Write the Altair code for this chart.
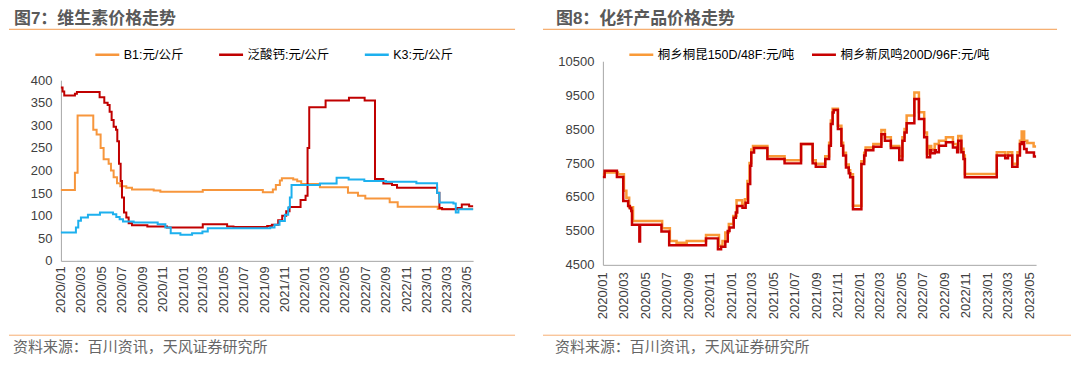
import altair as alt
import pandas as pd

FONT = "Liberation Sans, Noto Sans CJK SC, sans-serif"
CJK = "Noto Sans CJK SC, sans-serif"

# ---------------- 图7 data (元/公斤) ----------------
b1_dates = ["2020-01-01", "2020-02-12", "2020-02-20", "2020-04-07", "2020-04-17", "2020-04-29",
            "2020-05-08", "2020-05-23", "2020-05-30", "2020-06-07", "2020-06-17", "2020-06-27",
            "2020-07-15", "2020-08-01", "2020-10-05", "2020-10-25", "2021-03-01", "2021-08-28",
            "2021-09-27", "2021-10-06", "2021-10-18", "2021-10-24", "2021-11-27", "2021-12-09",
            "2021-12-21", "2022-02-15", "2022-05-10", "2022-06-09", "2022-07-01", "2022-09-12",
            "2022-10-06", "2023-02-03", "2023-05-20"]
b1_vals = [157, 195, 322, 290, 280, 250,
           225, 215, 200, 185, 172, 165,
           162, 158, 156, 153, 157, 152,
           158, 168, 178, 183, 180, 176,
           170, 163, 151, 144, 138, 130,
           120, 115, 115]

pan_dates = ["2020-01-01", "2020-01-06", "2020-01-11", "2020-02-12", "2020-02-18", "2020-04-26",
             "2020-05-10", "2020-05-20", "2020-05-26", "2020-06-01", "2020-06-07", "2020-06-14",
             "2020-06-18", "2020-06-23", "2020-06-28", "2020-07-02", "2020-07-08", "2020-07-15",
             "2020-07-22", "2020-08-01", "2020-09-16", "2020-11-14", "2021-03-01", "2021-05-13",
             "2021-06-01", "2021-09-10", "2021-09-24", "2021-10-13", "2021-10-25", "2021-11-06",
             "2021-11-16", "2021-12-19", "2022-01-03", "2022-01-09", "2022-01-14", "2022-03-04",
             "2022-05-13", "2022-06-29", "2022-07-30", "2022-08-24", "2022-09-19", "2022-10-04",
             "2023-02-01", "2023-02-08", "2023-02-16", "2023-04-02", "2023-04-16", "2023-05-08",
             "2023-05-20"]
pan_vals = [384, 375, 366, 370, 374, 362,
            350, 345, 330, 312, 297, 290,
            265, 215, 177, 140, 107, 96,
            83, 79, 76, 74, 81, 76,
            75, 77, 80, 90, 100, 110,
            119, 135, 144, 250, 340, 355,
            361, 355, 181, 171, 168, 162,
            151, 117, 114, 117, 125, 121,
            121]

k3_dates = ["2020-01-01", "2020-02-15", "2020-02-22", "2020-03-01", "2020-03-22", "2020-04-27",
            "2020-06-05", "2020-06-15", "2020-06-25", "2020-07-05", "2020-08-06", "2020-10-17",
            "2020-11-09", "2020-11-25", "2020-12-24", "2021-01-28", "2021-02-28", "2021-03-16",
            "2021-09-19", "2021-10-02", "2021-10-17", "2021-11-02", "2021-11-12", "2021-11-17",
            "2021-11-22", "2022-02-15", "2022-04-06", "2022-05-12", "2022-06-28", "2022-09-01",
            "2022-12-01", "2023-02-01", "2023-02-08", "2023-03-22", "2023-03-29", "2023-04-06",
            "2023-05-20"]
k3_vals = [63, 74, 89, 96, 102, 107,
           103, 97, 92, 87, 85, 81,
           74, 61, 58, 61, 65, 72,
           74, 80, 88, 102, 118, 140,
           168, 171, 184, 180, 177, 175,
           172, 150, 129, 127, 107, 114,
           114]

# ---------------- 图8 data (元/吨) ----------------
tk_dates = ["2020-01-01", "2020-01-06", "2020-02-13", "2020-03-01", "2020-03-08", "2020-03-16",
            "2020-03-27", "2020-06-18", "2020-07-10", "2020-07-29", "2020-08-27", "2020-10-21",
            "2020-11-27", "2020-12-07", "2020-12-15", "2020-12-25", "2021-01-07", "2021-01-16",
            "2021-02-01", "2021-02-09", "2021-02-16", "2021-02-22", "2021-02-27", "2021-03-04",
            "2021-04-14", "2021-06-02", "2021-07-19", "2021-08-21", "2021-08-30", "2021-09-26",
            "2021-10-07", "2021-10-12", "2021-10-17", "2021-11-01", "2021-11-11", "2021-11-16",
            "2021-11-24", "2021-12-02", "2021-12-06", "2021-12-14", "2022-01-07", "2022-01-15",
            "2022-01-19", "2022-02-10", "2022-03-05", "2022-03-15", "2022-04-01", "2022-04-25",
            "2022-05-04", "2022-05-10", "2022-05-16", "2022-06-07", "2022-06-20", "2022-07-05",
            "2022-07-13", "2022-07-19", "2022-07-25", "2022-08-04", "2022-08-16", "2022-09-05",
            "2022-09-25", "2022-10-07", "2022-10-10", "2022-10-19", "2022-10-25", "2022-10-29",
            "2023-01-28", "2023-02-21", "2023-03-01", "2023-03-13", "2023-03-28", "2023-04-04",
            "2023-04-09", "2023-04-16", "2023-04-25", "2023-05-13", "2023-05-20"]
tk_vals = [7160, 7220, 7170, 6680, 6480, 6200,
           5790, 5580, 5200, 5150, 5200, 5380,
           5060, 5200, 5450, 5700, 5940, 6400,
           6280, 6430, 6970, 7500, 7900, 8000,
           7700, 7580, 8060, 7580, 7480, 7700,
           8100, 8750, 9100, 8600, 8100, 7800,
           7460, 7290, 7170, 6240, 7550, 7800,
           7960, 8060, 8470, 8260, 8000, 7700,
           8260, 8500, 8900, 9580, 9000, 8400,
           7780, 8000, 7900, 8060, 8160, 8260,
           8060, 7920, 8300, 7920, 7720, 7180,
           7820, 7740, 7820, 7480, 7820, 8160,
           8430, 8160, 8090, 7990, 7990]

xf_dates = ["2020-01-01", "2020-01-06", "2020-02-10", "2020-02-28", "2020-03-13", "2020-03-18",
            "2020-03-22", "2020-03-24", "2020-04-14", "2020-04-16", "2020-06-16", "2020-07-08",
            "2020-10-21", "2020-11-24", "2020-12-03", "2020-12-15", "2020-12-22", "2020-12-27",
            "2021-01-08", "2021-01-14", "2021-01-18", "2021-02-02", "2021-02-11", "2021-02-18",
            "2021-02-24", "2021-02-27", "2021-03-07", "2021-04-14", "2021-06-02", "2021-07-19",
            "2021-08-21", "2021-08-30", "2021-09-26", "2021-10-07", "2021-10-12", "2021-10-17",
            "2021-10-20", "2021-11-01", "2021-11-11", "2021-11-16", "2021-11-24", "2021-12-02",
            "2021-12-06", "2021-12-14", "2022-01-07", "2022-01-15", "2022-01-19", "2022-02-10",
            "2022-03-05", "2022-03-15", "2022-04-01", "2022-04-25", "2022-05-04", "2022-05-10",
            "2022-05-16", "2022-06-07", "2022-06-20", "2022-07-05", "2022-07-13", "2022-07-22",
            "2022-07-25", "2022-08-04", "2022-08-07", "2022-08-16", "2022-09-05", "2022-09-25",
            "2022-10-07", "2022-10-10", "2022-10-19", "2022-10-25", "2022-10-29", "2023-01-28",
            "2023-02-21", "2023-03-01", "2023-03-13", "2023-03-28", "2023-04-04", "2023-04-09",
            "2023-04-16", "2023-04-23", "2023-05-14", "2023-05-20"]
xf_vals = [7090, 7270, 7090, 6380, 6235, 6165,
           6090, 5680, 5190, 5680, 5480, 5080,
           5280, 4960, 5030, 5190, 5500, 5600,
           5890, 6040, 6235, 6185, 6330, 6880,
           7420, 7810, 7940, 7620, 7490, 8060,
           7490, 7390, 7620, 8010, 8650, 8990,
           9060, 8500, 8010, 7720, 7370, 7200,
           7080, 6140, 7470, 7720, 7880, 7980,
           8350, 8160, 7940, 7590, 8160, 8400,
           8670, 9390, 8800, 8260, 7670, 7880,
           7790, 7880, 7820, 8010, 8110, 7960,
           7820, 8160, 7820, 7620, 7080, 7720,
           7640, 7720, 7390, 7720, 8060, 8110,
           7910, 7810, 7690, 7690]

left_names = ["B1:元/公斤", "泛酸钙:元/公斤", "K3:元/公斤"]
left_colors = ["#F7963C", "#C00000", "#1DB0EE"]
right_names = ["桐乡桐昆150D/48F:元/吨", "桐乡新凤鸣200D/96F:元/吨"]
right_colors = ["#F99A38", "#C80000"]

x_ticks = ["2020-01", "2020-03", "2020-05", "2020-07", "2020-09", "2020-11",
           "2021-01", "2021-03", "2021-05", "2021-07", "2021-09", "2021-11",
           "2022-01", "2022-03", "2022-05", "2022-07", "2022-09", "2022-11",
           "2023-01", "2023-03", "2023-05"]
left_yticks = [0, 50, 100, 150, 200, 250, 300, 350, 400]
right_yticks = [4500, 5500, 6500, 7500, 8500, 9500, 10500]

titles = ["图7：维生素价格走势", "图8：化纤产品价格走势"]
source = "资料来源：百川资讯，天风证券研究所"


def series(name, dates, vals):
    return pd.DataFrame({"series": name,
                         "date": [d + "T00:00:00" for d in dates],
                         "value": vals})


left_df = pd.concat([series(left_names[0], b1_dates, b1_vals),
                     series(left_names[1], pan_dates, pan_vals),
                     series(left_names[2], k3_dates, k3_vals)], ignore_index=True)
right_df = pd.concat([series(right_names[0], tk_dates, tk_vals),
                      series(right_names[1], xf_dates, xf_vals)], ignore_index=True)

tick_dt = [alt.DateTime(year=int(s[:4]), month=int(s[5:]), date=1) for s in x_ticks]
x_dom = [alt.DateTime(year=2020, month=1, date=1), alt.DateTime(year=2023, month=5, date=20)]

AX = dict(ticks=False, grid=False, domainColor="#A6A6A6", domainWidth=1,
          labelFontSize=13, labelColor="#404040", labelFont=FONT, title=None)


def panel(df, names, colors, ydom, yrange, yticks, width, height, xoff, xpad,
          legx, colpad, legfs, title, rule_x1, top_x2, bot_x2, sw):
    xenc = alt.X("date:T", scale=alt.Scale(domain=x_dom),
                 axis=alt.Axis(values=tick_dt, format="%Y/%m", labelAngle=-90,
                               labelOverlap=False, labelPadding=xpad, offset=xoff,
                               labelFlush=False, **AX))
    yscale = alt.Scale(domain=ydom, nice=False, zero=False)
    if yrange is not None:
        yscale = alt.Scale(domain=ydom, range=yrange, nice=False, zero=False)
    yenc = alt.Y("value:Q", scale=yscale,
                 axis=alt.Axis(values=yticks, format="d", labelPadding=9, **AX))
    cenc = alt.Color("series:N", scale=alt.Scale(domain=names, range=colors),
                     legend=alt.Legend(orient="none", legendX=legx, legendY=-20,
                                       direction="horizontal", title=None,
                                       symbolType="stroke", symbolSize=576,
                                       symbolStrokeWidth=2.5, labelFontSize=legfs,
                                       labelFont=FONT, labelColor="#000000",
                                       columnPadding=colpad, labelOffset=3,
                                       padding=0))
    layers = []
    for n in names:
        layers.append(
            alt.Chart(df).transform_filter(alt.datum.series == n)
            .mark_line(interpolate="step-after", strokeWidth=sw)
            .encode(x=xenc, y=yenc, color=cenc)
        )
    tdf = pd.DataFrame({"t": [title]})
    sdf = pd.DataFrame({"t": [source]})
    anchor = alt.Chart(tdf).mark_rule(strokeOpacity=0, strokeWidth=1).encode(
        x=alt.value(0), x2=alt.value(10), y=alt.value(-53))
    ttl = alt.Chart(tdf).mark_text(align="left", baseline="alphabetic", fontSize=17,
                                   fontWeight="bold", color="#595959", font=FONT).encode(
        text="t:N", x=alt.value(-47), y=alt.value(-37))
    src = alt.Chart(sdf).mark_text(align="left", baseline="middle", fontSize=15,
                                   color="#666666", font=CJK).encode(
        text="t:N", x=alt.value(-48), y=alt.value(286.5))
    r1 = alt.Chart(tdf).mark_rule(color="#F39A4C", strokeWidth=1).encode(
        x=alt.value(rule_x1), x2=alt.value(top_x2), y=alt.value(-32))
    r2 = alt.Chart(tdf).mark_rule(color="#F7AE72", strokeWidth=1).encode(
        x=alt.value(rule_x1), x2=alt.value(bot_x2), y=alt.value(274.5))
    return alt.layer(*layers, anchor, ttl, src, r1, r2).properties(width=width, height=height)


left = panel(left_df, left_names, left_colors, [0, 400], [200, 19], left_yticks,
             413, 204, -4, 5, 33, 30, 12.5, titles[0], -52, 455, 455, 2)
right = panel(right_df, right_names, right_colors, [4500, 10500], None, right_yticks,
              434, 204, 0, 7, 25, 12, 12.5, titles[1], -60, 455, 469, 2.5)

chart = (alt.hconcat(left, right, spacing=26)
         .resolve_scale(color="independent")
         .properties(padding=0, background="#ffffff")
         .configure_view(strokeWidth=0))

chart.save("out.html", embed_options={"renderer": "svg", "actions": False})
